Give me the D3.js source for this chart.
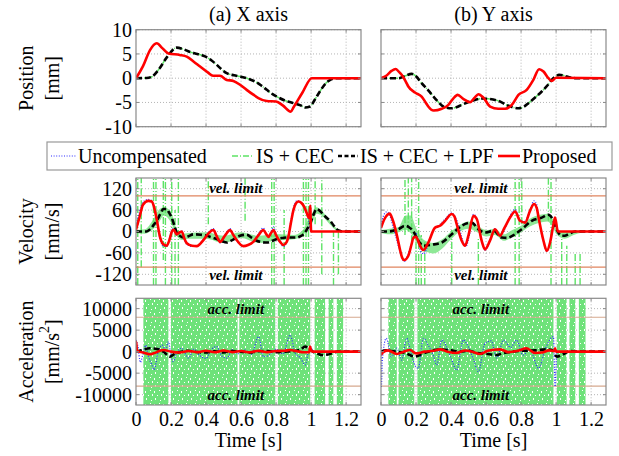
<!DOCTYPE html>
<html>
<head>
<meta charset="utf-8">
<script src="https://cdn.jsdelivr.net/npm/d3@7"></script>
<style>
  body { margin: 0; background: #fff; }
  svg { display: block; }
  text { font-family: "Liberation Serif", serif; fill: #000; }
</style>
</head>
<body>
<svg width="619" height="456"></svg>
<script>
// axis ticks
const timeTicks = [0, 0.2, 0.4, 0.6, 0.8, 1, 1.2];
const posTicks = [-10, -5, 0, 5, 10];
const velTicks = [-120, -60, 0, 60, 120];
const accTicks = [-10000, -5000, 0, 5000, 10000];
const velLimit = 100;
const accLimit = 8000;

const legendNames = ["Uncompensated", "IS + CEC", "IS + CEC + LPF", "Proposed"];

// ---- position [t, mm] ----
const propPosX = [[0,0],[0.04,2.5],[0.08,5.8],[0.118,7.2],[0.15,6.2],[0.185,5.1],[0.25,4.8],[0.29,4.45],[0.33,3.4],[0.366,2.4],[0.41,1.2],[0.44,0.5],[0.48,0.5],[0.518,-0.35],[0.556,-0.56],[0.6,-1.5],[0.632,-2.4],[0.67,-3.4],[0.699,-4.1],[0.747,-4.7],[0.8,-4.8],[0.838,-5.6],[0.884,-6.9],[0.9,-6.0],[0.95,-3.0],[1.004,0],[1.285,0]];
const lpfPosX = [[0,0],[0.06,0.05],[0.09,0.3],[0.13,1.8],[0.18,4.5],[0.232,6.3],[0.27,6.0],[0.309,5.4],[0.35,5.0],[0.394,4.5],[0.43,3.7],[0.461,2.75],[0.49,1.8],[0.518,1.03],[0.56,0.6],[0.594,0.34],[0.64,-0.1],[0.68,-0.69],[0.715,-1.5],[0.747,-2.4],[0.78,-3.3],[0.804,-3.8],[0.85,-4.6],[0.9,-5.15],[0.94,-5.6],[0.966,-6.05],[0.994,-5.84],[1.02,-4.5],[1.05,-2.75],[1.08,-1.2],[1.1,-0.55],[1.147,0],[1.285,0]];
const propPosY = [[0,0],[0.03,0.5],[0.06,1.5],[0.084,1.9],[0.1,1.4],[0.118,0.7],[0.14,-0.6],[0.156,-1.7],[0.194,-2.95],[0.232,-3.8],[0.255,-5.0],[0.27,-5.84],[0.3,-6.67],[0.347,-6.3],[0.385,-5.5],[0.41,-4.3],[0.438,-3.44],[0.47,-4.26],[0.509,-4.95],[0.535,-4.0],[0.556,-3.3],[0.585,-4.0],[0.623,-5.84],[0.67,-6.3],[0.709,-6.3],[0.747,-5.5],[0.785,-3.44],[0.832,-2.4],[0.87,-0.34],[0.903,1.86],[0.928,1.37],[0.956,0],[0.975,-0.55],[1.0,0.1],[1.285,0]];
const lpfPosY = [[0,0],[0.1,0],[0.14,0.5],[0.175,0.9],[0.2,0.4],[0.232,-1.03],[0.27,-2.5],[0.3,-3.8],[0.33,-5.0],[0.356,-5.84],[0.404,-6.2],[0.43,-6.0],[0.461,-5.5],[0.5,-4.9],[0.537,-4.47],[0.575,-4.2],[0.613,-4.26],[0.67,-4.67],[0.728,-5.7],[0.785,-6.2],[0.815,-5.9],[0.842,-5.15],[0.88,-4.0],[0.918,-2.75],[0.95,-1.5],[0.975,-0.34],[1.0,0.4],[1.017,0.69],[1.04,0.6],[1.061,0.34],[1.11,0],[1.285,0]];
// uncompensated and IS + CEC lie under the other two curves in position
const uncompPosX = propPosX, isPosX = lpfPosX;
const uncompPosY = propPosY, isPosY = lpfPosY;

// ---- velocity [t, mm/s] ----
const propVelX = [[0,5],[0.02,40],[0.04,75],[0.07,86],[0.09,84],[0.105,65],[0.118,35],[0.137,-15],[0.156,-36],[0.175,-40],[0.19,-25],[0.205,0],[0.215,5],[0.232,-8],[0.25,-2],[0.261,0],[0.275,-18],[0.29,-33],[0.32,-40],[0.347,-41],[0.385,-24],[0.415,-5],[0.442,4],[0.46,-12],[0.48,-29],[0.51,-10],[0.537,4],[0.556,-10],[0.575,-24],[0.613,-41],[0.64,-38],[0.67,-29],[0.7,-10],[0.727,4],[0.745,-8],[0.756,-15],[0.77,-5],[0.785,4],[0.8,-10],[0.823,-29],[0.842,-38],[0.86,-30],[0.87,-15],[0.885,25],[0.899,60],[0.915,80],[0.928,84],[0.945,80],[0.96,70],[0.975,52],[0.985,40],[0.99,38],[0.995,72],[1.0,0],[1.285,0]];
const uncompVelX = [[0,15],[0.02,55],[0.04,82],[0.07,90],[0.09,86],[0.105,62],[0.118,30],[0.137,-20],[0.156,-42],[0.175,-42],[0.19,-22],[0.205,5],[0.215,8],[0.232,-10],[0.25,0],[0.261,2],[0.275,-20],[0.29,-36],[0.32,-42],[0.347,-42],[0.385,-22],[0.415,-2],[0.442,8],[0.46,-12],[0.48,-32],[0.51,-8],[0.537,8],[0.556,-10],[0.575,-26],[0.613,-42],[0.64,-38],[0.67,-28],[0.7,-6],[0.727,10],[0.745,-8],[0.756,-14],[0.77,-2],[0.785,14],[0.8,-10],[0.823,-32],[0.842,-42],[0.86,-30],[0.87,-12],[0.885,30],[0.899,65],[0.915,85],[0.928,86],[0.945,80],[0.96,68],[0.975,52],[0.985,30],[0.995,5],[1.0,0],[1.285,0]];
const lpfVelX = [[0,0],[0.06,0],[0.08,6],[0.1,18],[0.118,30],[0.14,50],[0.156,63],[0.175,63],[0.19,52],[0.204,39],[0.22,15],[0.232,-3],[0.25,-12],[0.27,-17],[0.3,-13],[0.328,-8],[0.37,-9],[0.404,-12],[0.43,-16],[0.461,-21],[0.49,-27],[0.518,-31],[0.55,-24],[0.594,-12],[0.632,-9],[0.66,-17],[0.69,-26],[0.72,-30],[0.747,-31],[0.78,-26],[0.804,-21],[0.84,-18],[0.861,-17],[0.9,-17],[0.918,-17],[0.94,-13],[0.956,-8],[0.975,5],[0.994,21],[1.012,45],[1.032,63],[1.045,60],[1.06,53],[1.085,40],[1.109,30],[1.13,16],[1.147,6],[1.17,1],[1.185,0],[1.285,0]];
const isBandVelX = [[0,-4,4],[0.05,-6,6],[0.1,8,35],[0.13,25,60],[0.16,45,68],[0.2,25,55],[0.23,-10,10],[0.26,-24,-6],[0.3,-20,-4],[0.4,-20,-2],[0.5,-32,-12],[0.6,-18,-2],[0.7,-32,-12],[0.8,-26,-8],[0.9,-22,-10],[0.95,-12,2],[0.98,4,30],[1.0,15,45],[1.03,50,68],[1.06,45,58],[1.1,24,36],[1.15,2,8],[1.2,-1,1],[1.285,-1,1]];
const isSpikesVelX = [[0.01,-150,150],[0.03,-100,150],[0.1,-150,150],[0.114,-150,150],[0.156,-80,150],[0.168,-150,150],[0.204,-150,150],[0.223,-150,60],[0.242,-150,150],[0.413,20,150],[0.623,30,150],[0.775,-150,150],[0.789,-150,150],[0.846,-150,60],[0.956,-150,150],[0.971,-150,150],[0.985,-150,150],[1.023,20,150],[1.061,-120,150],[1.128,-150,0],[1.156,-120,0]];

const propVelY = [[0,10],[0.02,35],[0.05,50],[0.065,35],[0.08,11],[0.095,-20],[0.108,-50],[0.12,-72],[0.133,-80],[0.156,-68],[0.175,-35],[0.185,-17],[0.2,-15],[0.223,-40],[0.242,-52],[0.27,-31],[0.309,11],[0.337,16],[0.366,30],[0.404,49],[0.42,42],[0.432,21],[0.461,-26],[0.48,-40],[0.5,-10],[0.528,44],[0.547,35],[0.575,-26],[0.594,-50],[0.623,-25],[0.651,6.5],[0.68,-12],[0.705,10],[0.737,39],[0.766,56],[0.794,30],[0.823,25],[0.851,58],[0.874,77],[0.89,65],[0.9,39],[0.928,-26],[0.947,-54],[0.966,-30],[0.985,20],[0.994,39],[1.01,0],[1.285,0]];
const uncompVelY = [[0,20],[0.015,45],[0.032,55],[0.05,45],[0.07,10],[0.09,-25],[0.108,-55],[0.125,-80],[0.133,-84],[0.15,-70],[0.17,-40],[0.185,-15],[0.2,-5],[0.215,-35],[0.23,-60],[0.245,-62],[0.27,-35],[0.3,5],[0.337,20],[0.366,35],[0.404,52],[0.425,40],[0.45,5],[0.47,-30],[0.485,-42],[0.505,-10],[0.528,48],[0.545,40],[0.575,-25],[0.594,-52],[0.62,-30],[0.651,8],[0.68,-12],[0.705,5],[0.737,45],[0.766,62],[0.794,32],[0.823,28],[0.851,62],[0.874,86],[0.89,75],[0.9,40],[0.928,-28],[0.947,-56],[0.966,-30],[0.985,25],[0.994,30],[1.01,0],[1.285,0]];
const lpfVelY = [[0,0],[0.04,0],[0.07,2],[0.1,6.5],[0.137,16],[0.16,12],[0.185,0],[0.213,-26],[0.242,-40],[0.29,-37],[0.347,-31],[0.404,-7.5],[0.461,16],[0.518,25],[0.556,6.5],[0.594,-3],[0.642,2],[0.69,-17],[0.72,-18],[0.747,-13],[0.804,6.5],[0.861,30],[0.918,39],[0.956,47],[0.985,30],[1.004,5],[1.032,-12],[1.05,-12],[1.07,-7.5],[1.109,0],[1.285,0]];
const isBandVelY = [[0,-4,4],[0.05,-8,8],[0.1,-2,12],[0.14,5,45],[0.17,-5,45],[0.2,-28,10],[0.25,-55,-25],[0.3,-62,-32],[0.35,-48,-22],[0.4,-22,0],[0.45,0,18],[0.5,8,28],[0.55,-2,16],[0.6,-14,4],[0.65,-10,8],[0.7,-26,-8],[0.75,-16,4],[0.8,-2,16],[0.85,14,36],[0.9,24,46],[0.95,28,50],[0.98,14,36],[1.0,-6,8],[1.05,-20,0],[1.1,-10,2],[1.15,-3,3],[1.2,-1,1],[1.285,-1,1]];
const isSpikesVelY = [[0.137,-10,150],[0.156,0,150],[0.175,-30,150],[0.2,-150,-20],[0.215,-150,150],[0.23,-150,-10],[0.25,-150,-30],[0.404,-150,10],[0.556,-150,-20],[0.766,-150,150],[0.789,-150,150],[0.804,20,150],[0.956,30,150],[0.971,-150,150],[1.032,-150,-20],[1.061,-150,-40],[1.109,-150,-60],[1.137,-150,-60]];

// ---- acceleration [t, mm/s^2] ----
const propAccX = [[0,0],[0.001,2300],[0.005,300],[0.02,0],[0.05,-300],[0.08,-620],[0.1,-400],[0.156,390],[0.2,0],[0.25,-200],[0.3,150],[0.35,-100],[0.4,200],[0.45,-150],[0.5,250],[0.55,-100],[0.6,150],[0.65,-150],[0.7,200],[0.75,-100],[0.8,150],[0.85,200],[0.88,390],[0.92,100],[0.96,-150],[0.99,-100],[0.994,1160],[1.0,300],[1.01,0],[1.285,0]];
const uncompAccX = [[0,2700],[0.01,1500],[0.025,-2500],[0.04,-500],[0.055,1500],[0.07,-1000],[0.09,-3000],[0.103,-4200],[0.115,-2500],[0.13,500],[0.15,1500],[0.17,500],[0.185,2300],[0.2,-1000],[0.213,-2300],[0.23,-500],[0.26,800],[0.3,-1500],[0.33,600],[0.36,-800],[0.4,-1550],[0.43,500],[0.461,1160],[0.49,-1000],[0.52,-1500],[0.55,500],[0.58,-500],[0.62,400],[0.66,-600],[0.7,3500],[0.728,-1160],[0.76,-800],[0.8,600],[0.84,-500],[0.88,3875],[0.91,-500],[0.94,-1500],[0.966,-3100],[0.985,0],[1.0,1000],[1.01,0],[1.285,0]];
const lpfAccX = [[0,0],[0.03,300],[0.08,775],[0.12,600],[0.156,0],[0.194,-1160],[0.22,-500],[0.26,0],[0.3,200],[0.35,-100],[0.4,-200],[0.45,100],[0.5,-200],[0.55,150],[0.6,0],[0.65,-200],[0.7,100],[0.75,150],[0.8,-100],[0.85,0],[0.9,100],[0.94,500],[0.966,1160],[0.99,700],[1.01,0],[1.04,-500],[1.06,-775],[1.09,-700],[1.12,-400],[1.15,0],[1.285,0]];
const isBlocksAccX = [[0.042,0.185],[0.2,0.58],[0.59,0.795],[0.81,0.995],[1.02,1.08],[1.1,1.127],[1.147,1.183]];

const propAccY = [[0,0],[0.002,-600],[0.01,-200],[0.04,300],[0.09,-540],[0.13,0],[0.166,390],[0.2,-400],[0.25,0],[0.3,200],[0.337,540],[0.38,0],[0.43,-300],[0.48,250],[0.52,0],[0.566,-540],[0.61,200],[0.68,540],[0.73,-100],[0.78,200],[0.832,775],[0.88,-300],[0.92,-200],[0.96,300],[0.99,100],[0.994,800],[1.0,0],[1.285,0]];
const uncompAccY = [[0,3500],[0.002,-8100],[0.008,-2000],[0.03,3100],[0.06,-1160],[0.09,800],[0.118,-1940],[0.147,3100],[0.17,0],[0.185,-2300],[0.213,-3875],[0.242,3100],[0.27,1500],[0.3,-1000],[0.318,-3100],[0.347,2700],[0.37,1500],[0.4,-1500],[0.432,-4260],[0.47,2700],[0.5,1000],[0.53,-2000],[0.556,-4650],[0.594,1940],[0.63,2500],[0.66,-1500],[0.7,2700],[0.74,1000],[0.775,2700],[0.81,-800],[0.85,500],[0.9,-3875],[0.94,800],[0.985,3500],[0.994,-8100],[1.004,-500],[1.02,0],[1.285,0]];
const lpfAccY = [[0,0],[0.03,300],[0.08,0],[0.13,-200],[0.194,-1160],[0.24,-400],[0.3,300],[0.35,500],[0.4,300],[0.45,0],[0.5,200],[0.55,-300],[0.6,-500],[0.66,-775],[0.7,-300],[0.75,0],[0.8,200],[0.88,300],[0.947,540],[0.98,300],[1.004,-1160],[1.04,-600],[1.08,150],[1.12,0],[1.285,0]];
const isBlocksAccY = [[0.042,0.09],[0.1,0.19],[0.208,0.985],[1.004,1.06],[1.076,1.11],[1.13,1.168]];

// ---- layout ----
const svg = d3.select("svg");
const tMax = 1.285;
const green = "#5ee366";
const greenFill = "#6ee27a";
const fontSize = "20px";

const columns = [
  { x0: 136, x1: 361, title: "(a) X axis" },
  { x0: 381, x1: 606, title: "(b) Y axis" }
];
const rows = [
  { y0: 29.7, y1: 126.7, domain: [-10, 10], ticks: posTicks, label: ["Position", "[mm]"] },
  { y0: 178, y1: 285, domain: [-150, 150], ticks: velTicks, label: ["Velocity", "[mm/s]"],
    limit: velLimit, limitText: "vel. limit", textAt: 123, limitColor: "#e0855f" },
  { y0: 298.3, y1: 405, domain: [-12400, 12400], ticks: accTicks, label: ["Acceleration", "[mm/s", "2", "]"],
    limit: accLimit, limitText: "acc. limit", textAt: 10000, limitColor: "#d6a88e" }
];

const panelData = [
  [ { uncomp: uncompPosX, is: isPosX, lpf: lpfPosX, prop: propPosX },
    { uncomp: uncompPosY, is: isPosY, lpf: lpfPosY, prop: propPosY } ],
  [ { uncomp: uncompVelX, band: isBandVelX, spikes: isSpikesVelX, lpf: lpfVelX, prop: propVelX },
    { uncomp: uncompVelY, band: isBandVelY, spikes: isSpikesVelY, lpf: lpfVelY, prop: propVelY } ],
  [ { uncomp: uncompAccX, blocks: isBlocksAccX, lpf: lpfAccX, prop: propAccX },
    { uncomp: uncompAccY, blocks: isBlocksAccY, lpf: lpfAccY, prop: propAccY } ]
];

// speckled green texture for the dense IS + CEC acceleration trace
const defs = svg.append("defs");
const pat = defs.append("pattern")
  .attr("id", "speckle")
  .attr("patternUnits", "userSpaceOnUse")
  .attr("width", 9).attr("height", 13);
pat.append("rect").attr("width", 9).attr("height", 13).attr("fill", greenFill);
[[1, 1, 1, 2], [4, 5, 1, 1], [2, 8, 1, 2], [6, 0, 1, 1], [7, 10, 1, 1], [8, 4, 1, 2]].forEach(r =>
  pat.append("rect").attr("x", r[0]).attr("y", r[1]).attr("width", r[2]).attr("height", r[3]).attr("fill", "#fff"));

const styles = {
  uncomp: { stroke: "#2b2bff", width: 1.2, dash: "1,1.6" },
  is: { stroke: green, width: 1.5, dash: "6,2,1,2" },
  lpf: { stroke: "#000", width: 2.6, dash: "6,3" },
  prop: { stroke: "#ff0000", width: 2.6, dash: null }
};

rows.forEach((row, ri) => {
  columns.forEach((col, ci) => {
    const x = d3.scaleLinear().domain([0, tMax]).range([col.x0, col.x1]);
    const y = d3.scaleLinear().domain(row.domain).range([row.y1, row.y0]);
    const d = panelData[ri][ci];
    const id = `clip${ri}${ci}`;
    defs.append("clipPath").attr("id", id).append("rect")
      .attr("x", col.x0).attr("y", row.y0)
      .attr("width", col.x1 - col.x0).attr("height", row.y1 - row.y0);

    const g = svg.append("g");

    // grid
    g.append("g").selectAll("line").data(timeTicks.filter(t => t > 0)).join("line")
      .attr("x1", t => x(t)).attr("x2", t => x(t))
      .attr("y1", row.y0).attr("y2", row.y1)
      .attr("stroke", "#b5b5b5").attr("stroke-dasharray", "1,2");
    g.append("g").selectAll("line").data(row.ticks).join("line")
      .attr("x1", col.x0).attr("x2", col.x1)
      .attr("y1", v => y(v)).attr("y2", v => y(v))
      .attr("stroke", "#b5b5b5").attr("stroke-dasharray", "1,2");

    const plot = g.append("g").attr("clip-path", `url(#${id})`);
    const line = d3.line().x(p => x(p[0])).y(p => y(p[1])).curve(d3.curveMonotoneX);

    // IS + CEC
    if (d.blocks) {
      plot.append("g").selectAll("rect").data(d.blocks).join("rect")
        .attr("x", b => x(b[0])).attr("width", b => x(b[1]) - x(b[0]))
        .attr("y", row.y0).attr("height", row.y1 - row.y0)
        .attr("fill", "url(#speckle)");
    }
    if (d.band) {
      plot.append("path").datum(d.band)
        .attr("d", d3.area().x(p => x(p[0])).y0(p => y(p[1])).y1(p => y(p[2])).curve(d3.curveMonotoneX))
        .attr("fill", "#8ee896");
    }
    if (d.spikes) {
      plot.append("g").selectAll("line").data(d.spikes).join("line")
        .attr("x1", s => x(s[0])).attr("x2", s => x(s[0]))
        .attr("y1", s => y(s[1])).attr("y2", s => y(s[2]))
        .attr("stroke", green).attr("stroke-width", 1.4).attr("stroke-dasharray", "7,2,1,2");
    }
    if (d.is) {
      plot.append("path").datum(d.is).attr("d", line)
        .attr("fill", "none").attr("stroke", green).attr("stroke-width", 1.5).attr("stroke-dasharray", "6,2,1,2");
    }

    // limits
    if (row.limit) {
      plot.append("g").selectAll("line").data([row.limit, -row.limit]).join("line")
        .attr("x1", col.x0).attr("x2", col.x1)
        .attr("y1", v => y(v)).attr("y2", v => y(v))
        .attr("stroke", row.limitColor).attr("stroke-width", 1.2);
    }

    ["uncomp", "lpf", "prop"].forEach(k => {
      const s = styles[k];
      plot.append("path").datum(d[k]).attr("d", line)
        .attr("fill", "none").attr("stroke", s.stroke).attr("stroke-width", s.width)
        .attr("stroke-dasharray", s.dash).attr("stroke-linejoin", "round");
    });

    if (row.limit) {
      g.append("g").selectAll("text").data([row.textAt, -row.textAt]).join("text")
        .attr("x", x(0.57)).attr("y", v => y(v))
        .attr("text-anchor", "middle").attr("dominant-baseline", "central")
        .style("font-size", "15px").style("font-weight", "bold").style("font-style", "italic")
        .text(row.limitText);
    }

    // frame and inward ticks
    g.append("rect").attr("x", col.x0).attr("y", row.y0)
      .attr("width", col.x1 - col.x0).attr("height", row.y1 - row.y0)
      .attr("fill", "none").attr("stroke", "#8a8a8a").attr("stroke-width", 1.2);
    const tk = g.append("g").attr("stroke", "#8a8a8a");
    timeTicks.forEach(t => {
      tk.append("line").attr("x1", x(t)).attr("x2", x(t)).attr("y1", row.y1).attr("y2", row.y1 - 3);
      tk.append("line").attr("x1", x(t)).attr("x2", x(t)).attr("y1", row.y0).attr("y2", row.y0 + 3);
    });
    row.ticks.forEach(v => {
      tk.append("line").attr("x1", col.x0).attr("x2", col.x0 + 3).attr("y1", y(v)).attr("y2", y(v));
      tk.append("line").attr("x1", col.x1).attr("x2", col.x1 - 3).attr("y1", y(v)).attr("y2", y(v));
    });

    // tick labels
    if (ci === 0) {
      const ax = g.append("g").attr("transform", `translate(${col.x0},0)`)
        .call(d3.axisLeft(y).tickValues(row.ticks).tickSize(0).tickPadding(4).tickFormat(v => String(v)));
      ax.select(".domain").remove();
      ax.selectAll("text").style("font-size", fontSize).style("font-family", "Liberation Serif");
    }
    if (ri === rows.length - 1) {
      const ax = g.append("g").attr("transform", `translate(0,${row.y1})`)
        .call(d3.axisBottom(x).tickValues(timeTicks).tickSize(0).tickPadding(7).tickFormat(v => String(v)));
      ax.select(".domain").remove();
      ax.selectAll("text").style("font-size", fontSize).style("font-family", "Liberation Serif");
      g.append("text").attr("x", (col.x0 + col.x1) / 2).attr("y", 447)
        .attr("text-anchor", "middle").style("font-size", fontSize).text("Time [s]");
    }
    if (ri === 0) {
      g.append("text").attr("x", (col.x0 + col.x1) / 2).attr("y", 21)
        .attr("text-anchor", "middle").style("font-size", fontSize).text(col.title);
    }
  });

  // y-axis title (two lines, rotated)
  const yc = (row.y0 + row.y1) / 2;
  svg.append("text").attr("transform", `translate(26,${yc}) rotate(-90)`)
    .attr("text-anchor", "middle").attr("dominant-baseline", "central")
    .style("font-size", fontSize).text(row.label[0]);
  const l2 = svg.append("text").attr("transform", `translate(52,${yc}) rotate(-90)`)
    .attr("text-anchor", "middle").attr("dominant-baseline", "central")
    .style("font-size", fontSize);
  l2.append("tspan").text(row.label[1]);
  if (row.label.length > 2) {
    l2.append("tspan").attr("dy", -8).style("font-size", "14px").text(row.label[2]);
    l2.append("tspan").attr("dy", 8).text(row.label[3]);
  }
});

// legend
const legend = svg.append("g");
legend.append("rect").attr("x", 47).attr("y", 142).attr("width", 565).attr("height", 28)
  .attr("fill", "#fff").attr("stroke", "#999").attr("stroke-width", 1.2);
const legendItems = [
  { key: "uncomp", x: 51, len: 25, text: legendNames[0] },
  { key: "is", x: 232, len: 22, text: legendNames[1] },
  { key: "lpf", x: 338, len: 20, text: legendNames[2] },
  { key: "prop", x: 498, len: 22, text: legendNames[3] }
];
legendItems.forEach(it => {
  const s = styles[it.key];
  legend.append("line").attr("x1", it.x).attr("x2", it.x + it.len).attr("y1", 156).attr("y2", 156)
    .attr("stroke", s.stroke).attr("stroke-width", it.key === "lpf" ? 2.4 : s.width)
    .attr("stroke-dasharray", it.key === "lpf" ? "4,2.5" : s.dash);
  legend.append("text").attr("x", it.x + it.len + 2).attr("y", 156)
    .attr("dominant-baseline", "central").style("font-size", fontSize).text(it.text);
});
</script>
</body>
</html>
